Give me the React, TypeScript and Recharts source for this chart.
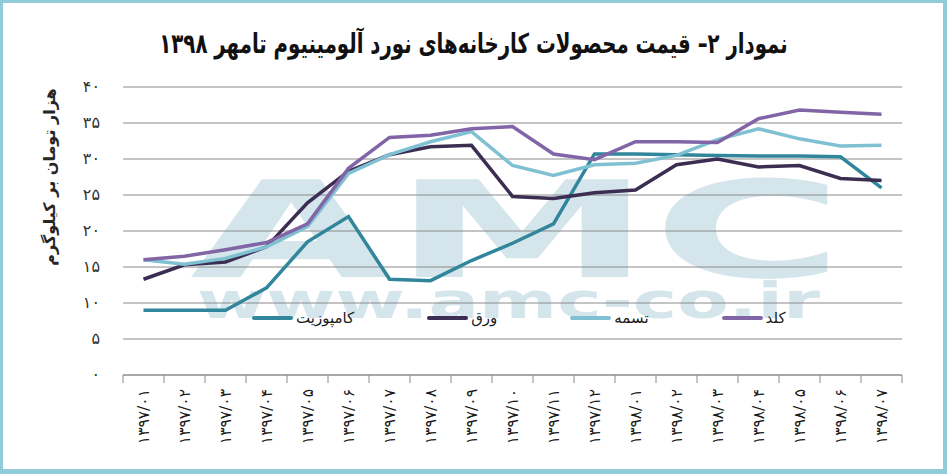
import { LineChart, Line, XAxis, YAxis, CartesianGrid } from 'recharts'

const W = 947
const H = 474
const MARGIN = { top: 87, right: 45, bottom: 0, left: 0 }
const Y_AXIS_W = 123
const X_AXIS_H = 99

const months = [
  '۱۳۹۷/۰۱', '۱۳۹۷/۰۲', '۱۳۹۷/۰۳', '۱۳۹۷/۰۴', '۱۳۹۷/۰۵', '۱۳۹۷/۰۶',
  '۱۳۹۷/۰۷', '۱۳۹۷/۰۸', '۱۳۹۷/۰۹', '۱۳۹۷/۱۰', '۱۳۹۷/۱۱', '۱۳۹۷/۱۲',
  '۱۳۹۸/۰۱', '۱۳۹۸/۰۲', '۱۳۹۸/۰۳', '۱۳۹۸/۰۴', '۱۳۹۸/۰۵', '۱۳۹۸/۰۶', '۱۳۹۸/۰۷',
]

// هزار تومان بر کیلوگرم
const composite = [9, 9, 9, 12.1, 18.5, 22, 13.3, 13.1, 15.9, 18.3, 21, 30.7, 30.7, 30.6, 30.5, 30.4, 30.4, 30.3, 26]
const warq = [13.3, 15.3, 15.7, 17.8, 23.9, 28.3, 30.6, 31.7, 31.9, 24.8, 24.5, 25.3, 25.7, 29.2, 30, 28.9, 29.1, 27.3, 27]
const tasme = [16, 15.4, 16.2, 17.8, 20.6, 28, 30.6, 32.4, 33.8, 29.1, 27.7, 29.2, 29.4, 30.5, 32.7, 34.2, 32.8, 31.8, 31.9]
const kold = [16, 16.5, 17.4, 18.4, 21, 28.7, 33, 33.3, 34.2, 34.5, 30.7, 29.9, 32.4, 32.4, 32.3, 35.6, 36.8, 36.5, 36.2]

const yTicks = [0, 5, 10, 15, 20, 25, 30, 35, 40]
const xTicks = months.map((_, i) => i).concat(months.length)

const series = [
  { key: 'composite', name: 'کامپوزیت', color: '#31869b' },
  { key: 'warq', name: 'ورق', color: '#3b2e52' },
  { key: 'tasme', name: 'تسمه', color: '#7fc1d3' },
  { key: 'kold', name: 'کلد', color: '#8165a6' },
]

const data = months.map((m, i) => ({
  pos: i + 0.5,
  month: m,
  composite: composite[i],
  warq: warq[i],
  tasme: tasme[i],
  kold: kold[i],
}))

const FONT = '"DejaVu Sans", sans-serif'
const STEP = (W - Y_AXIS_W - MARGIN.right) / months.length
const FA_DIGITS = '۰۱۲۳۴۵۶۷۸۹'
const toFa = (n: number) => String(n).replace(/\d/g, (d) => FA_DIGITS[+d])

function XTick({ x, y, payload }: any) {
  const label = months[payload.value]
  if (!label) return <g />
  return (
    <text
      transform={`translate(${x + STEP / 2 + 5}, ${y + 4}) rotate(-90)`}
      textAnchor="end"
      fontFamily={FONT}
      fontSize={15.5}
      fill="#1a1a1a"
      direction="ltr"
    >
      {label}
    </text>
  )
}

function YTick({ y, payload }: any) {
  return (
    <text x={100} y={y + 5} textAnchor="end" fontFamily={FONT} fontSize={16} fill="#333">
      {toFa(payload.value)}
    </text>
  )
}

function YLabel() {
  return (
    <text
      transform="translate(55, 177) rotate(-90)"
      textAnchor="middle"
      fontFamily={FONT}
      fontWeight="bold"
      fontSize={16}
      fill="#262626"
    >
      هزار تومان بر کیلوگرم
    </text>
  )
}

function Watermark() {
  return (
    <svg width={W} height={H} style={{ position: 'absolute', left: 0, top: 0 }}>
      <text
        transform="translate(190, 277) scale(1.95, 1)"
        fontFamily={FONT}
        fontWeight="bold"
        fontSize={134}
        fill="#d4e5eb"
      >
        AMC
      </text>
      <text
        transform="translate(197, 318) scale(1.5, 1)"
        fontFamily={FONT}
        fontWeight="bold"
        fontSize={50}
        fill="#d4e5eb"
      >
        www.amc-co.ir
      </text>
    </svg>
  )
}

function LegendRow() {
  return (
    <div
      style={{
        position: 'absolute',
        left: 252,
        top: 307,
        height: 22,
        display: 'flex',
        alignItems: 'center',
        gap: 73,
        direction: 'ltr',
      }}
    >
      {series.map((s) => (
        <div key={s.key} style={{ display: 'flex', alignItems: 'center', gap: 3 }}>
          <div style={{ width: 41, height: 4, background: s.color, borderRadius: 2 }} />
          <span style={{ fontFamily: FONT, fontSize: 15, color: '#1a1a1a', direction: 'rtl' }}>{s.name}</span>
        </div>
      ))}
    </div>
  )
}

export default function App() {
  return (
    <div style={{ position: 'absolute', left: 0, top: 0, width: W, height: H, background: '#fff', overflow: 'hidden' }}>
      <Watermark />
      <div
        style={{
          position: 'absolute',
          left: 0,
          top: 27,
          width: W,
          textAlign: 'center',
          direction: 'rtl',
          fontFamily: FONT,
          fontWeight: 'bold',
          fontSize: 25,
          lineHeight: '34px',
          color: '#111',
          transform: 'scale(0.79, 1.1)',
        }}
      >
        نمودار ۲– قیمت محصولات کارخانه‌های نورد آلومینیوم تامهر ۱۳۹۸
      </div>
      <div style={{ position: 'absolute', left: 0, top: 0 }}>
        <LineChart width={W} height={H} data={data} margin={MARGIN}>
          <CartesianGrid vertical={false} stroke="#8a8a8a" strokeWidth={1} />
          <XAxis
            dataKey="pos"
            type="number"
            domain={[0, months.length]}
            ticks={xTicks}
            interval={0}
            height={X_AXIS_H}
            tickSize={8}
            tick={<XTick />}
            tickLine={{ stroke: '#8a8a8a' }}
            axisLine={{ stroke: '#8a8a8a' }}
          />
          <YAxis
            domain={[0, 40]}
            ticks={yTicks}
            interval={0}
            width={Y_AXIS_W}
            axisLine={false}
            tickLine={false}
            tick={<YTick />}
            label={<YLabel />}
          />
          {series.map((s) => (
            <Line
              key={s.key}
              dataKey={s.key}
              name={s.name}
              type="linear"
              stroke={s.color}
              strokeWidth={3.5}
              dot={false}
              isAnimationActive={false}
            />
          ))}
        </LineChart>
      </div>
      <LegendRow />
      <div
        style={{
          position: 'absolute',
          left: 0,
          top: 0,
          width: W,
          height: H,
          boxSizing: 'border-box',
          borderStyle: 'solid',
          borderColor: '#92cbd9',
          borderWidth: '3px 4px 5px 3px',
          pointerEvents: 'none',
        }}
      />
    </div>
  )
}
